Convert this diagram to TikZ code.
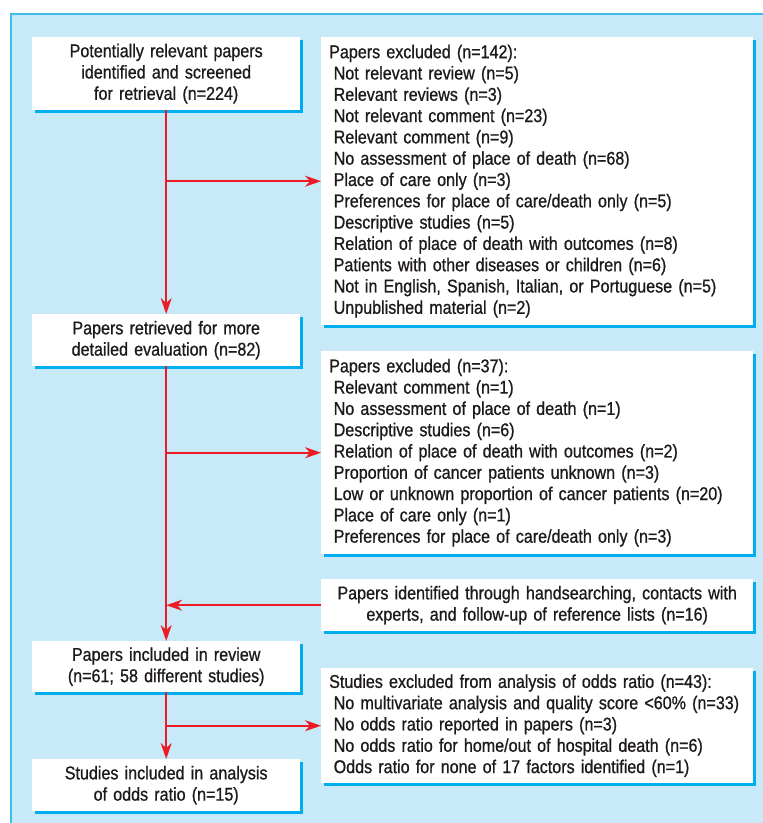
\documentclass[tikz,border=0pt]{standalone}
\usepackage{fontspec}
\setmainfont{Liberation Sans}[FakeStretch=0.87, FakeBold=0.8]
\usepackage{tikz}
\usetikzlibrary{arrows.meta}
\usetikzlibrary{shadows}

\definecolor{panelblue}{HTML}{C7E9F8}
\definecolor{panelline}{HTML}{3DBDE8}
\definecolor{shadowcyan}{HTML}{00AEEF}
\definecolor{arrowred}{HTML}{ED1C24}
\definecolor{textgray}{HTML}{1E1A1B}

\newcommand{\exitem}{\\\hspace*{4.5pt}}

\begin{document}
\begin{tikzpicture}[x=1pt,y=1pt,
  paths/.style={-{Stealth[length=16pt,width=11pt,inset=5pt]}, line width=1.6pt, draw=arrowred},
  flowbox/.style={fill=white, anchor=north west, inner ysep=0pt, text=textgray,
    font=\fontsize{18.5}{21.3}\selectfont,
    drop shadow={shadow xshift=3pt, shadow yshift=-3pt, fill=shadowcyan, opacity=1}},
  leftbox/.style={flowbox, inner xsep=0pt, text width=268pt, align=center},
  rightbox/.style={flowbox, inner xsep=8pt, text width=416pt, align=left}]

 \useasboundingbox (0,0) rectangle (763,-823);

 % panel
 \fill[panelblue] (11,-14) rectangle (763,-823);
 \draw[panelline, line width=1.5pt] (11,-823) -- (11,-14) -- (763,-14);


 \node[leftbox, minimum height=73pt] (box_1) at (32,-37)
     {Potentially relevant papers\\identified and screened\\for retrieval (n=224)};

 \node[rightbox, minimum height=288pt] (box_2) at (321,-37)
     {Papers excluded (n=142):
      \exitem Not relevant review (n=5)
      \exitem Relevant reviews (n=3)
      \exitem Not relevant comment (n=23)
      \exitem Relevant comment (n=9)
      \exitem No assessment of place of death (n=68)
      \exitem Place of care only (n=3)
      \exitem Preferences for place of care/death only (n=5)
      \exitem Descriptive studies (n=5)
      \exitem Relation of place of death with outcomes (n=8)
      \exitem Patients with other diseases or children (n=6)
      \exitem Not in English, Spanish, Italian, or Portuguese (n=5)
      \exitem Unpublished material (n=2)};

 \node[leftbox, minimum height=52pt] (box_3) at (32,-314)
     {Papers retrieved for more\\detailed evaluation (n=82)};

 \node[rightbox, minimum height=203pt] (box_4) at (321,-351)
     {Papers excluded (n=37):
      \exitem Relevant comment (n=1)
      \exitem No assessment of place of death (n=1)
      \exitem Descriptive studies (n=6)
      \exitem Relation of place of death with outcomes (n=2)
      \exitem Proportion of cancer patients unknown (n=3)
      \exitem Low or unknown proportion of cancer patients (n=20)
      \exitem Place of care only (n=1)
      \exitem Preferences for place of care/death only (n=3)};

 \node[rightbox, align=center, minimum height=52pt] (box_5) at (321,-579)
     {Papers identified through handsearching, contacts with\\experts, and follow-up of reference lists (n=16)};

 \node[leftbox, minimum height=51pt] (box_6) at (32,-641)
     {Papers included in review\\(n=61; 58 different studies)};

 \node[rightbox, minimum height=115pt] (box_7) at (321,-668)
     {Studies excluded from analysis of odds ratio (n=43):
      \exitem No multivariate analysis and quality score <60\% (n=33)
      \exitem No odds ratio reported in papers (n=3)
      \exitem No odds ratio for home/out of hospital death (n=6)
      \exitem Odds ratio for none of 17 factors identified (n=1)};

 \node[leftbox, minimum height=52pt] (box_8) at (32,-759)
     {Studies included in analysis\\of odds ratio (n=15)};


 \draw [paths] (box_1.south) -- (box_3.north);
 \draw [paths] (box_1.south |- box_2.west) -- (box_2.west);
 \draw [paths] (box_3.south) -- (box_6.north);
 \draw [paths] (box_3.south |- box_4.west) -- (box_4.west);
 \draw [paths] (box_5.west) -- (box_5.west -| box_3.south);
 \draw [paths] (box_6.south) -- (box_8.north);
 \draw [paths] (box_6.south |- box_7.west) -- (box_7.west);


\end{tikzpicture}
\end{document}
